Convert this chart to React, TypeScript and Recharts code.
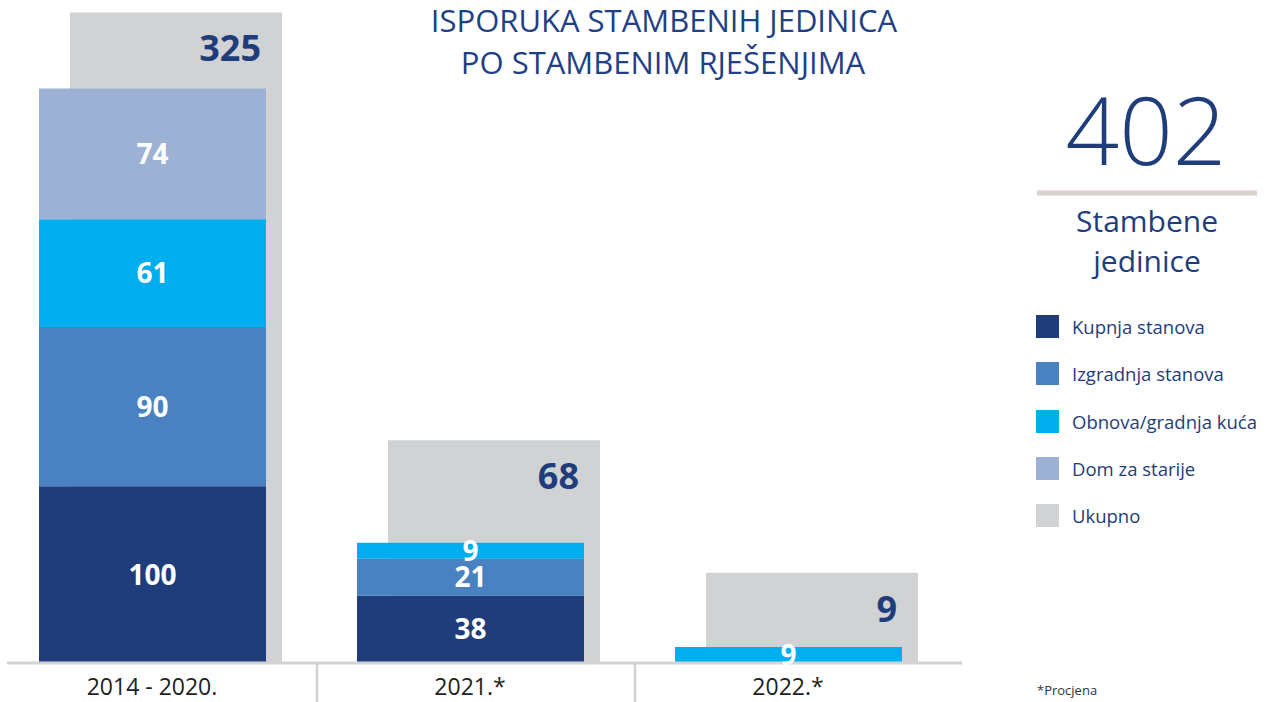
import { Bar, ComposedChart, LabelList, Legend, XAxis, YAxis } from "recharts";

const categories = ["2014 - 2020.", "2021.*", "2022.*"];
const kupnja = [100, 38, 0];
const izgradnja = [90, 21, 0];
const obnova = [61, 9, 9];
const dom = [74, 0, 0];
const ukupno = [325, 68, 9];
// the grey backing bars in the source are not drawn to scale, heights read off the picture
const ukupnoVisina = [368, 126, 51];

const seriesKeys = ["kupnja", "izgradnja", "obnova", "dom"];
const seriesNames = ["Kupnja stanova", "Izgradnja stanova", "Obnova/gradnja kuća", "Dom za starije"];
const seriesColors = ["#1F3D7A", "#4A81C1", "#00AEEF", "#9CB1D3"];
const greyColor = "#D1D2D4";
const navy = "#1F3D7A";
const font = "'Open Sans', sans-serif";

const data = categories.map((c, i) => ({
  idx: i,
  name: c,
  kupnja: kupnja[i],
  izgradnja: izgradnja[i],
  obnova: obnova[i],
  dom: dom[i],
  ukupno: ukupno[i],
  ukupnoVisina: ukupnoVisina[i],
}));

const W = 1268;
const H = 702;
const AXIS_H = 39;
const margin = { top: 0, right: 306, bottom: 0, left: 7 };
const plotW = W - margin.left - margin.right;
const STEP = 318; // px between categories
const FIRST = 145; // first stacked bar centre from plot left
const GREY_SHIFT = 24;
const stackDomain = [-FIRST / STEP, (plotW - FIRST) / STEP];
const greyDomain = [-(FIRST + GREY_SHIFT) / STEP, (plotW - FIRST - GREY_SHIFT) / STEP];

function CategoryTick(props: any) {
  const { x, y, payload, index } = props;
  return (
    <g>
      <text x={x} y={y + 32} textAnchor="middle" fontSize={23} fill="#222" fontFamily={font}>
        {categories[payload.value]}
      </text>
      {index < categories.length - 1 && (
        <line x1={x + STEP / 2 + 6} x2={x + STEP / 2 + 6} y1={y} y2={y + 40} stroke="#D3D3D3" strokeWidth={2.5} />
      )}
    </g>
  );
}

function SegmentLabel(props: any) {
  const { x, y, width, height, value } = props;
  if (!value) return null;
  return (
    <text x={x + width / 2} y={y + height / 2 + 10} textAnchor="middle" fontSize={28} fontWeight={700} fill="#fff" fontFamily={font}>
      {value}
    </text>
  );
}

function TotalLabel(props: any) {
  const { x, y, width, index } = props;
  return (
    <text x={x + width - 21} y={y + 49} textAnchor="end" fontSize={36} fontWeight={700} fill={navy} fontFamily={font}>
      {ukupno[index]}
    </text>
  );
}

function LegendBox() {
  const names = [...seriesNames, "Ukupno"];
  const colors = [...seriesColors, greyColor];
  return (
    <div style={{ fontFamily: font }}>
      {names.map((n, i) => (
        <div key={n} style={{ display: "flex", alignItems: "center", height: 47.3 }}>
          <span style={{ width: 23, height: 23, background: colors[i], display: "inline-block", marginRight: 13 }} />
          <span style={{ fontSize: 18.5, color: navy }}>{n}</span>
        </div>
      ))}
    </div>
  );
}

export default function App() {
  const total = ukupno.reduce((a, b) => a + b, 0);
  return (
    <div style={{ position: "absolute", left: 0, top: 0, width: W, height: H, background: "#fff" }}>
      <ComposedChart width={W} height={H} data={data} margin={margin}>
        <XAxis
          xAxisId="s"
          dataKey="idx"
          type="number"
          domain={stackDomain}
          allowDataOverflow
          ticks={[0, 1, 2]}
          tick={<CategoryTick />}
          tickLine={false}
          tickSize={0}
          tickMargin={0}
          height={AXIS_H}
          axisLine={{ stroke: "#D3D3D3", strokeWidth: 3 }}
          interval={0}
        />
        <XAxis xAxisId="g" dataKey="idx" type="number" domain={greyDomain} allowDataOverflow height={0} hide />
        <YAxis type="number" domain={[0, 375]} allowDataOverflow width={0} hide />
        <Legend
          layout="vertical"
          align="center"
          verticalAlign="middle"
          wrapperStyle={{ left: 1036, top: 303, width: 232 }}
          content={() => <LegendBox />}
        />
        <Bar xAxisId="g" dataKey="ukupnoVisina" name="Ukupno" fill={greyColor} barSize={212} isAnimationActive={false}>
          <LabelList dataKey="ukupno" content={<TotalLabel />} />
        </Bar>
        {seriesKeys.map((k, i) => (
          <Bar
            key={k}
            xAxisId="s"
            dataKey={k}
            name={seriesNames[i]}
            stackId="a"
            fill={seriesColors[i]}
            barSize={227}
            isAnimationActive={false}
          >
            <LabelList dataKey={k} content={<SegmentLabel />} />
          </Bar>
        ))}
      </ComposedChart>
      <svg width={W} height={H} style={{ position: "absolute", left: 0, top: 0, pointerEvents: "none" }}>
        <g fontFamily={font} fill="#1F3F86" textAnchor="middle" fontSize={31}>
          <text x={664} y={32}>ISPORUKA STAMBENIH JEDINICA</text>
          <text x={663} y={74}>PO STAMBENIM RJEŠENJIMA</text>
        </g>
        <text x={1146} y={165} textAnchor="middle" fontFamily={font} fontWeight={300} fontSize={94} fill={navy}>
          {total}
        </text>
        <line x1={1037} x2={1257} y1={193} y2={193} stroke="#DAD0CC" strokeWidth={5} />
        <g fontFamily={font} fill={navy} textAnchor="middle" fontSize={30}>
          <text x={1147} y={232}>Stambene</text>
          <text x={1147} y={272}>jedinice</text>
        </g>
        <text x={1037} y={695} fontFamily={font} fontSize={13} fill="#333">
          *Procjena
        </text>
      </svg>
    </div>
  );
}
